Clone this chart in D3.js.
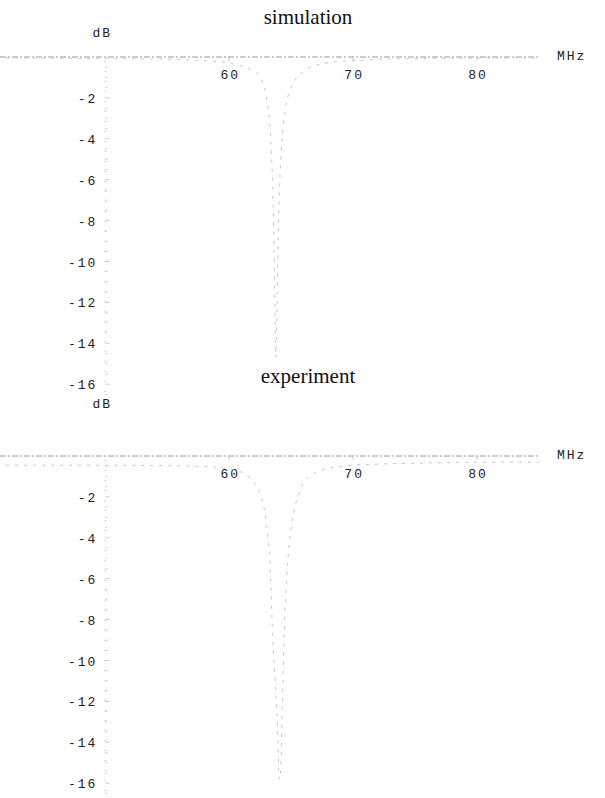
<!DOCTYPE html>
<html><head><meta charset="utf-8">
<script src="https://cdn.jsdelivr.net/npm/d3@7"></script>
<style>
html,body{margin:0;padding:0;background:#fff;}
svg{display:block;}
.title{font-family:"Liberation Serif","Times New Roman",serif;font-size:21px;fill:#111;}
.lab{font-family:"Liberation Mono","DejaVu Sans Mono",monospace;font-size:13px;fill:#222;letter-spacing:2px;}
</style></head>
<body>
<svg id="c" width="605" height="798"></svg>
<script>
// ---- data ----
const panels = ["simulation", "experiment"];
const xTicks = [60, 70, 80];
const yTicks = [-2, -4, -6, -8, -10, -12, -14, -16];
const xUnit = "MHz";
const yUnit = "dB";

const simFreq = [42, 46, 50, 54, 56, 58, 60, 61, 62, 62.5, 63, 63.3, 63.5, 63.65, 63.75, 63.85, 64.0, 64.2, 64.5, 65, 66, 67, 68, 70, 72, 75, 78, 82, 85];
const simDb   = [-0.05, -0.06, -0.08, -0.1, -0.12, -0.18, -0.3, -0.45, -0.7, -1.0, -2.0, -3.6, -6.2, -10.4, -14.7, -12.2, -7.6, -4.6, -2.7, -1.5, -0.7, -0.4, -0.28, -0.18, -0.12, -0.08, -0.06, -0.05, -0.05];

const expFreq = [42, 46, 50, 54, 58, 60, 61, 62, 62.5, 63, 63.3, 63.5, 63.7, 63.9, 64.05, 64.15, 64.3, 64.5, 64.8, 65.2, 65.6, 66, 67, 68, 70, 72, 75, 78, 82, 85];
const expDb   = [-0.45, -0.45, -0.45, -0.47, -0.52, -0.62, -0.8, -1.3, -1.9, -3.3, -5.5, -8.7, -11.0, -13.3, -15.8, -15.4, -11.8, -7.6, -4.6, -2.75, -1.9, -1.3, -0.8, -0.6, -0.45, -0.4, -0.35, -0.32, -0.3, -0.3];

const series = [
  {freq: simFreq, db: simDb},
  {freq: expFreq, db: expDb}
];

// ---- layout ----
const svg = d3.select("#c");
const layout = [
  {axisY: 57, titleY: 24, dbY: 37, bottomY: 395},
  {axisY: 456, titleY: 383, dbY: 408, bottomY: 792}
];

const x = d3.scaleLinear().domain([41.5, 85]).range([0, 539]);
const pxPerDb = 20.45;

panels.forEach((name, i) => {
  const L = layout[i];
  const y = d3.scaleLinear().domain([0, -16]).range([L.axisY, L.axisY + 16 * pxPerDb]);
  const g = svg.append("g");

  // title
  g.append("text").attr("class", "title").attr("x", 308).attr("y", L.titleY)
    .attr("text-anchor", "middle").text(name);

  // x axis line (faint, broken like the scan)
  g.append("line").attr("x1", x(41.5)).attr("x2", x(85)).attr("y1", y(0)).attr("y2", y(0))
    .attr("stroke", "#9a9a9a").attr("stroke-width", 1).attr("stroke-dasharray", "6,2,2,2");

  // y axis (dotted)
  const yAxisX = x(50);
  g.append("line").attr("x1", yAxisX).attr("x2", yAxisX).attr("y1", y(0) + 4).attr("y2", L.bottomY)
    .attr("stroke", "#aaa").attr("stroke-width", 1).attr("stroke-dasharray", "1,9");

  // y minor ticks
  const minor = d3.range(-0.5, -16.6, -0.5);
  g.selectAll("line.mt").data(minor).join("line").attr("class", "mt")
    .attr("x1", yAxisX).attr("x2", d => yAxisX + (d % 2 === 0 ? 4 : 2))
    .attr("y1", d => y(d)).attr("y2", d => y(d))
    .attr("stroke", "#bbb").attr("stroke-width", 0.8);

  // y tick labels
  g.selectAll("text.yl").data(yTicks).join("text").attr("class", "lab yl")
    .attr("x", yAxisX - 8).attr("y", d => y(d) + 5).attr("text-anchor", "end")
    .text(d => String(d));

  // x ticks and labels
  g.selectAll("line.xt").data(xTicks).join("line").attr("class", "xt")
    .attr("x1", d => x(d)).attr("x2", d => x(d)).attr("y1", y(0)).attr("y2", y(0) + 4)
    .attr("stroke", "#bbb").attr("stroke-width", 0.8);
  g.selectAll("text.xl").data(xTicks).join("text").attr("class", "lab xl")
    .attr("x", d => x(d) + 1).attr("y", y(0) + 22).attr("text-anchor", "middle")
    .text(d => String(d));

  // unit labels
  g.append("text").attr("class", "lab").attr("x", yAxisX - 3).attr("y", L.dbY)
    .attr("text-anchor", "middle").text(yUnit);
  g.append("text").attr("class", "lab").attr("x", 557).attr("y", y(0) + 3).text(xUnit);

  // faded curve
  const s = series[i];
  const pts = s.freq.map((f, k) => [f, s.db[k]]);
  const line = d3.line().x(d => x(d[0])).y(d => y(d[1])).curve(d3.curveMonotoneX);
  g.append("path").attr("d", line(pts)).attr("fill", "none")
    .attr("stroke", "#bdbdbd").attr("stroke-width", 0.9).attr("stroke-dasharray", "3,6");
});
</script>
</body></html>
